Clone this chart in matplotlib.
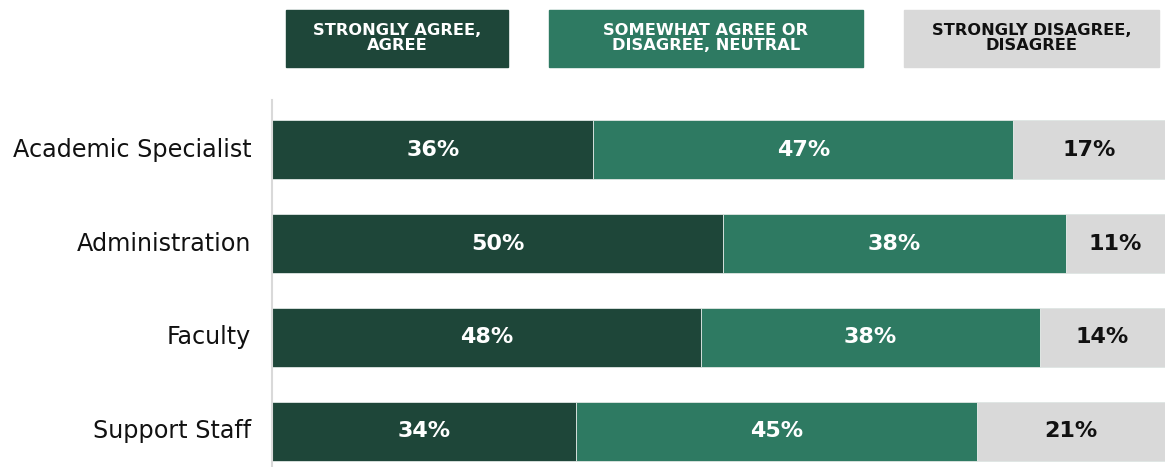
import numpy as np
import matplotlib.pyplot as plt
from matplotlib.patches import Rectangle

plt.rcParams['font.family'] = ['DejaVu Sans']

groups = ["Academic Specialist", "Administration", "Faculty", "Support Staff"]
agree = [36, 50, 48, 34]
neutral = [47, 38, 38, 45]
disagree = [17, 11, 14, 21]

series_names = ["STRONGLY AGREE,\nAGREE", "SOMEWHAT AGREE OR\nDISAGREE, NEUTRAL", "STRONGLY DISAGREE,\nDISAGREE"]
colors = ["#1e4639", "#2e7a62", "#d9d9d9"]
text_colors = ["white", "white", "#111111"]

W, H = 1165, 467
fig = plt.figure(figsize=(W / 100, H / 100), dpi=100, facecolor='white')
ax = fig.add_axes([272 / W, 0, 1 - 272 / W, 1 - 100 / H])

data = np.array([agree, neutral, disagree], dtype=float)
shares = data / data.sum(axis=0) * 100
y = np.arange(len(groups))
left = np.zeros(len(groups))
for k in range(3):
    ax.barh(y, shares[k], left=left, height=0.63, color=colors[k],
            edgecolor='#dfe6e3', linewidth=0.6)
    for i in range(len(groups)):
        ax.text(left[i] + shares[k][i] / 2, y[i], f"{int(data[k][i])}%",
                ha='center', va='center', color=text_colors[k],
                fontsize=16, fontweight='bold')
    left += shares[k]

ax.set_xlim(0, 100)
ax.set_ylim(3.378, -0.527)
ax.set_yticks(y)
ax.set_yticklabels(groups, fontsize=17.2, color='#111111', va='center')
ax.tick_params(axis='y', length=0, pad=15)
ax.set_xticks([])
for s in ['top', 'right', 'bottom']:
    ax.spines[s].set_visible(False)
ax.spines['left'].set_color('#d9d9d9')
ax.spines['left'].set_linewidth(1.5)

# legend boxes across the top
boxes = [(286, 508), (549, 863), (904, 1159)]
for (x0, x1), name, c, tc in zip(boxes, series_names, colors, text_colors):
    fig.patches.append(Rectangle((x0 / W, 1 - 67 / H), (x1 - x0) / W, 57 / H,
                                 transform=fig.transFigure, color=c))
    fig.text((x0 + x1) / 2 / W, 1 - 38 / H, name, ha='center', va='center',
             color=tc, fontsize=11.7, fontweight='bold', linespacing=0.95)

fig.savefig("out.png", dpi=100, facecolor='white')
